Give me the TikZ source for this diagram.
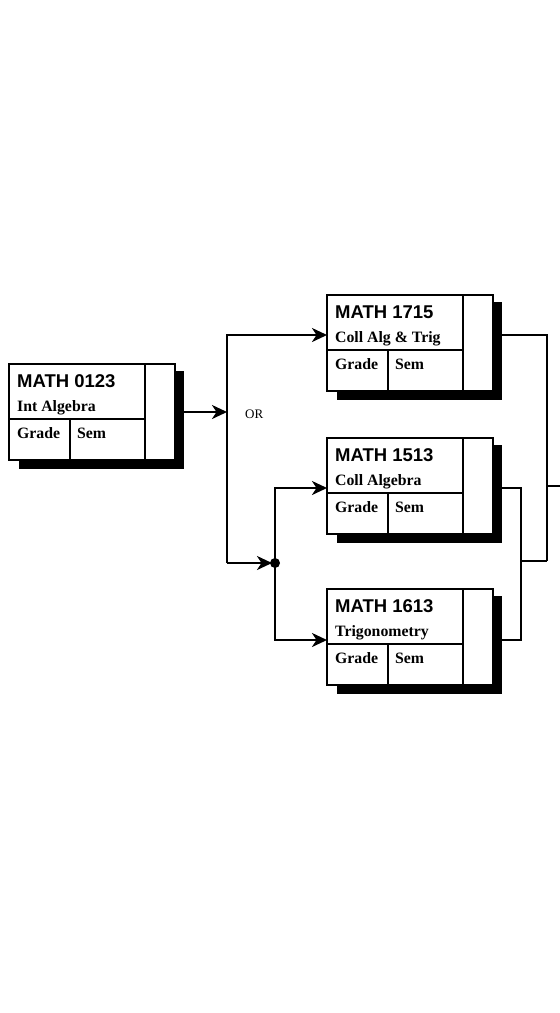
\documentclass[tikz,border=0pt]{standalone}
\usepackage{fontspec}
\setmainfont{Liberation Serif}
\newfontfamily\hsans{Liberation Sans}
\usetikzlibrary{arrows.meta}

\newcommand\coursebox[6]{%
  % #1 name, #2 x, #3 y, #4 code, #5 title, #6 connector offset
  \fill (#2+10,#3+7) rectangle (#2+175,#3+105);
  \node[boxframe, anchor=north west] (#1) at (#2,#3) {};
  \draw (#2+136,#3) -- (#2+136,#3+96);
  \draw (#2,#3+55) -- (#2+136,#3+55);
  \draw (#2+61,#3+55) -- (#2+61,#3+96);
  \node[codetxt] (#1-code) at (#2+7,#3+23) {#4};
  \node[titletxt] (#1-title) at (#2+7,#3+47) {#5};
  \node[titletxt] (#1-grade) at (#2+7,#3+74) {Grade};
  \node[titletxt] (#1-sem) at (#2+67,#3+74) {Sem};
  \coordinate (#1-in) at (#2,#3+#6);
  \coordinate (#1-out) at (#2+175,#3+#6);
}

\begin{document}
\begin{tikzpicture}[x=1pt,y=-1pt,line width=2.3pt,
  boxframe/.style={draw, fill=white, minimum width=166pt, minimum height=96pt,
    inner sep=0pt, outer sep=0pt},
  codetxt/.style={anchor=base west, inner sep=0pt, font=\hsans\bfseries\fontsize{18.5}{18.5}\selectfont},
  titletxt/.style={anchor=base west, inner sep=0pt, font=\bfseries\fontsize{15.8}{15.8}\selectfont},
  arr/.style={-{Stealth[length=15pt,width=14pt,inset=4.5pt]}},
  ortxt/.style={anchor=base west, inner sep=0pt, font=\fontsize{13}{13}\selectfont}]
\useasboundingbox (0,0) rectangle (560,1013);

\coursebox{m0123}{9}{364}{MATH 0123}{Int Algebra}{48}
\coursebox{m1715}{327}{295}{MATH 1715}{Coll Alg \& Trig}{40}
\coursebox{m1513}{327}{438}{MATH 1513}{Coll Algebra}{50}
\coursebox{m1613}{327}{589}{MATH 1613}{Trigonometry}{51}

\coordinate (bus) at (227,412);
\coordinate (dot) at (275,563);
\coordinate (rj) at (521,561);
\coordinate (rk) at (547,561);
\coordinate (tick) at (547,486);
\coordinate (exit) at (560,486);

\draw[arr] (m0123-out) -- (bus);
\node[ortxt] (or) at (244,418) {OR};
\draw[arr] (bus |- dot) -- (bus |- m1715-in) -- (m1715-in);
\draw[arr, shorten >=3pt] (bus |- dot) -- (dot);
\fill (dot) circle (5pt);
\draw[arr] (dot) |- (m1513-in);
\draw[arr] (dot) |- (m1613-in);

\draw (m1715-out) -| (rk);
\draw (m1513-out) -| (rj) |- (m1613-out);
\draw (rj) -- (rk);
\draw (tick) -- (exit);
\end{tikzpicture}
\end{document}
